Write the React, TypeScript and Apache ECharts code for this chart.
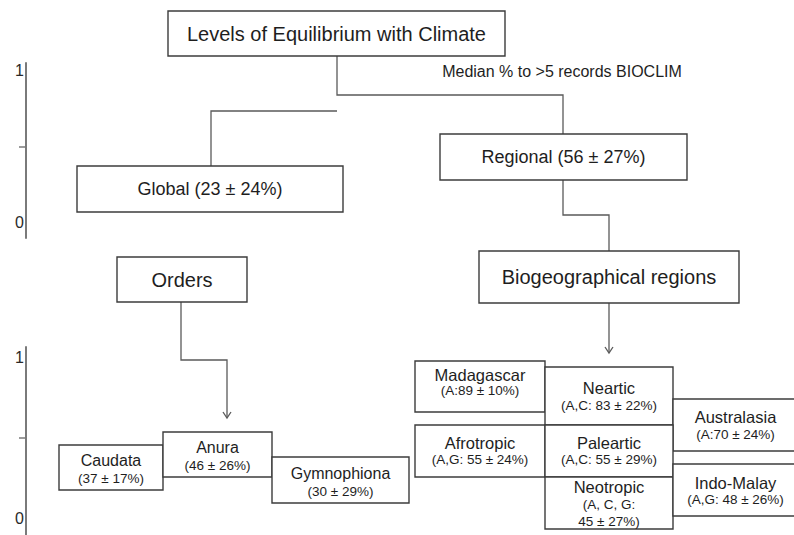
import React, { useEffect, useRef } from 'react';
import * as echarts from 'echarts';

// ---------- texts & values ----------
const TITLE = 'Levels of Equilibrium with Climate';
const SUBTITLE = 'Median % to >5 records BIOCLIM';
const ORDERS_HEADER = 'Orders';
const REGIONS_HEADER = 'Biogeographical regions';

const levelNames = ['Global', 'Regional'];
const levelMedian = [23, 56];
const levelSD = [24, 27];

const orderNames = ['Caudata', 'Anura', 'Gymnophiona'];
const orderMedian = [37, 46, 30];
const orderSD = [17, 26, 29];

const regionNames = ['Madagascar', 'Neartic', 'Australasia', 'Afrotropic', 'Paleartic', 'Neotropic', 'Indo-Malay'];
const regionGroups = ['A', 'A,C', 'A', 'A,G', 'A,C', 'A, C, G', 'A,G'];
const regionMedian = [89, 83, 70, 55, 55, 45, 48];
const regionSD = [10, 22, 24, 24, 29, 27, 26];

const scaleTicks = [0, 1];
const scaleMidTick = [0.5];

// ---------- layout (diagram canvas units) ----------
type Box = { x0: number; x1: number; y0: number; y1: number; dy?: number; gap?: number; wrap?: boolean };
const titleBox: Box = { x0: 168, x1: 505, y0: 11, y1: 56 };
const levelBoxes: Box[] = [
  { x0: 77, x1: 343, y0: 166, y1: 212 },
  { x0: 440, x1: 687, y0: 134, y1: 180 },
];
const ordersHeaderBox: Box = { x0: 117, x1: 247, y0: 257, y1: 302 };
const regionsHeaderBox: Box = { x0: 479, x1: 739, y0: 251, y1: 303 };
const orderBoxes: Box[] = [
  { x0: 59, x1: 163, y0: 445, y1: 490, dy: 1.5, gap: 18 },
  { x0: 163, x1: 272, y0: 432, y1: 477, dy: 2, gap: 18 },
  { x0: 272, x1: 409, y0: 457, y1: 503, dy: 2, gap: 18 },
];
const regionBoxes: Box[] = [
  { x0: 415, x1: 545, y0: 361, y1: 412, dy: -4, gap: 15 },
  { x0: 545, x1: 673, y0: 367, y1: 425, dy: 0.5, gap: 17 },
  { x0: 673, x1: 798, y0: 399, y1: 451, dy: 0.5, gap: 17 },
  { x0: 415, x1: 545, y0: 425, y1: 477, dy: 0, gap: 16 },
  { x0: 545, x1: 673, y0: 425, y1: 477, dy: 0, gap: 16 },
  { x0: 545, x1: 673, y0: 477, y1: 529, dy: 1, gap: 17, wrap: true },
  { x0: 673, x1: 798, y0: 464, y1: 516, dy: 1, gap: 16 },
];
const subtitlePos = [562, 71];
const connectors: { pts: number[][]; arrow?: boolean }[] = [
  { pts: [[337, 56], [337, 95], [563, 95], [563, 134]] },
  { pts: [[337, 111], [211, 111], [211, 166]] },
  { pts: [[563, 180], [563, 215], [609, 215], [609, 251]] },
  { pts: [[609, 303], [609, 353]], arrow: true },
  { pts: [[181, 302], [181, 360], [227, 360], [227, 418]], arrow: true },
];

const FONT = '"Liberation Sans", Arial, Helvetica, sans-serif';
const TEXT_COLOR = '#1e1e1e';
const BOX_COLOR = '#3c3c3c';
const LINE_COLOR = '#5a5a5a';

type Line = { text: string; size: number };
type Node = { box: Box; lines: Line[]; border: boolean };

function buildNodes(): Node[] {
  const nodes: Node[] = [];
  nodes.push({ box: titleBox, lines: [{ text: TITLE, size: 20 }], border: true });
  levelNames.forEach((n, i) => {
    nodes.push({ box: levelBoxes[i], lines: [{ text: `${n} (${levelMedian[i]} ± ${levelSD[i]}%)`, size: 18 }], border: true });
  });
  nodes.push({ box: ordersHeaderBox, lines: [{ text: ORDERS_HEADER, size: 20 }], border: true });
  nodes.push({ box: regionsHeaderBox, lines: [{ text: REGIONS_HEADER, size: 20 }], border: true });
  orderNames.forEach((n, i) => {
    nodes.push({
      box: orderBoxes[i],
      lines: [{ text: n, size: 16 }, { text: `(${orderMedian[i]} ± ${orderSD[i]}%)`, size: 13.5 }],
      border: true,
    });
  });
  regionNames.forEach((n, i) => {
    const g = regionGroups[i];
    const sep = g.length === 1 ? ':' : ': ';
    const box = regionBoxes[i];
    const lines: Line[] = [{ text: n, size: 16.5 }];
    if (box.wrap) {
      lines.push({ text: `(${g}:`, size: 13.5 });
      lines.push({ text: `${regionMedian[i]} ± ${regionSD[i]}%)`, size: 13.5 });
    } else {
      lines.push({ text: `(${g}${sep}${regionMedian[i]} ± ${regionSD[i]}%)`, size: 13.5 });
    }
    nodes.push({ box, lines, border: true });
  });
  nodes.push({
    box: { x0: subtitlePos[0], x1: subtitlePos[0], y0: subtitlePos[1], y1: subtitlePos[1] },
    lines: [{ text: SUBTITLE, size: 16 }],
    border: false,
  });
  return nodes;
}

export default function App() {
  const ref = useRef<HTMLDivElement>(null);
  useEffect(() => {
    document.body.style.margin = '0';
    if (!ref.current) return;
    const chart = echarts.init(ref.current, null, { renderer: 'svg' });
    const nodes = buildNodes();

    const scaleAxis = (gridIndex: number, min: number, max: number) => ({
      type: 'value',
      gridIndex,
      min,
      max,
      axisLine: { show: true, lineStyle: { color: '#7a7a7a', width: 2 } },
      axisTick: { show: true, customValues: scaleMidTick, length: 7, lineStyle: { color: '#7a7a7a', width: 1.5 } },
      axisLabel: {
        show: true,
        customValues: scaleTicks,
        margin: 2,
        fontSize: 16,
        color: '#2a2a2a',
        fontFamily: FONT,
        formatter: (v: number) => String(v),
      },
      splitLine: { show: false },
    });

    chart.setOption({
      animation: false,
      backgroundColor: '#ffffff',
      grid: [
        { left: 0, top: 0, right: 0, bottom: 0 },
        { left: 26, top: 63, width: 10, height: 175 },
        { left: 26, top: 347, width: 10, height: 200 },
      ],
      xAxis: [
        { type: 'value', gridIndex: 0, min: 0, max: 794, show: false },
        { type: 'value', gridIndex: 1, min: 0, max: 1, show: false },
        { type: 'value', gridIndex: 2, min: 0, max: 1, show: false },
      ],
      yAxis: [
        { type: 'value', gridIndex: 0, min: 0, max: 535, inverse: true, show: false },
        scaleAxis(1, -0.1, 1.05),
        scaleAxis(2, -0.1, 1.065),
      ],
      series: [
        {
          type: 'custom',
          coordinateSystem: 'cartesian2d',
          xAxisIndex: 0,
          yAxisIndex: 0,
          clip: false,
          silent: true,
          data: connectors.map((c, i) => [c.pts[0][0], c.pts[0][1], i]),
          renderItem: (params: any, api: any) => {
            const c = connectors[api.value(2)];
            const pts = c.pts.map((p) => api.coord(p));
            const children: any[] = [
              { type: 'polyline', shape: { points: pts }, style: { stroke: LINE_COLOR, lineWidth: 1.3, fill: 'none' } },
            ];
            if (c.arrow) {
              const tip = pts[pts.length - 1];
              children.push({
                type: 'polyline',
                shape: { points: [[tip[0] - 4, tip[1] - 6], tip, [tip[0] + 4, tip[1] - 6]] },
                style: { stroke: LINE_COLOR, lineWidth: 1.3, fill: 'none' },
              });
            }
            return { type: 'group', children };
          },
        },
        {
          type: 'custom',
          coordinateSystem: 'cartesian2d',
          xAxisIndex: 0,
          yAxisIndex: 0,
          clip: false,
          silent: true,
          data: nodes.map((n, i) => [n.box.x0, n.box.y0, i]),
          renderItem: (params: any, api: any) => {
            const n = nodes[api.value(2)];
            const p0 = api.coord([n.box.x0, n.box.y0]);
            const p1 = api.coord([n.box.x1, n.box.y1]);
            const children: any[] = [];
            if (n.border) {
              children.push({
                type: 'rect',
                shape: { x: p0[0], y: p0[1], width: p1[0] - p0[0], height: p1[1] - p0[1] },
                style: { fill: '#ffffff', stroke: BOX_COLOR, lineWidth: 1.4 },
              });
            }
            const cx = (p0[0] + p1[0]) / 2;
            const cy = (p0[1] + p1[1]) / 2 + (n.box.dy || 0);
            const gap = n.box.gap || 17;
            const k = n.lines.length;
            n.lines.forEach((l, j) => {
              children.push({
                type: 'text',
                style: {
                  text: l.text,
                  x: cx,
                  y: cy + (j - (k - 1) / 2) * gap,
                  align: 'center',
                  verticalAlign: 'middle',
                  fontSize: l.size,
                  fontFamily: FONT,
                  fill: TEXT_COLOR,
                },
              });
            });
            return { type: 'group', children };
          },
        },
      ],
    });
    return () => chart.dispose();
  }, []);
  return <div ref={ref} style={{ width: 794, height: 535 }} />;
}
